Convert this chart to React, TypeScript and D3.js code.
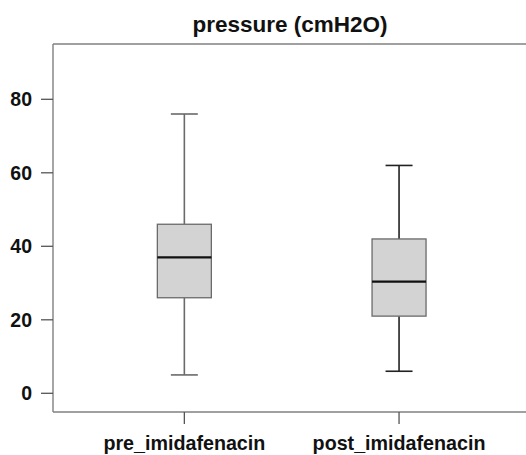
import React from "react";
import * as d3 from "d3";

// group names and the five-number summaries
const groups = ["pre_imidafenacin", "post_imidafenacin"];
const whiskerLow = [5, 6];
const quartile1 = [26, 21];
const medians = [37, 30.4];
const quartile3 = [46, 42];
const whiskerHigh = [76, 62];
const yTicks = [0, 20, 40, 60, 80];
const title = "pressure (cmH2O)";

const W = 526;
const H = 455;
const frame = { left: 53, top: 44, bottom: 412 };

export default function App() {
  const y = d3.scaleLinear().domain([0, 80]).range([393.3, 99.3]);
  const x = d3.scalePoint<string>().domain(groups).range([77, 506.4]).padding(0.5);
  const boxW = 54;
  const capW = 27;
  const whiskerColors = ["#6a6a6a", "#222"];
  const font = "'Liberation Sans', Arial, Helvetica, sans-serif";

  return (
    <svg width={W} height={H} style={{ position: "absolute", left: 0, top: 0, background: "#fff" }}>
      <text x={290} y={32} textAnchor="middle" fontFamily={font} fontWeight="bold" fontSize={22.5} fill="#111">
        {title}
      </text>

      {/* frame: top, left and bottom lines; right side is cut off */}
      <g stroke="#808080" strokeWidth={1.4} fill="none">
        <line x1={frame.left} x2={W} y1={frame.top} y2={frame.top} />
        <line x1={frame.left} x2={frame.left} y1={frame.top} y2={frame.bottom} />
        <line x1={frame.left} x2={W} y1={frame.bottom} y2={frame.bottom} />
      </g>

      {/* y axis */}
      {yTicks.map((t) => (
        <g key={t}>
          <line x1={41} x2={frame.left} y1={y(t)} y2={y(t)} stroke="#555" strokeWidth={1.3} />
          <text x={32} y={y(t)} dy="0.36em" textAnchor="end" fontFamily={font} fontWeight="bold" fontSize={19.5} fill="#111">
            {t}
          </text>
        </g>
      ))}

      {/* x axis */}
      {groups.map((g) => (
        <g key={g}>
          <line x1={x(g)} x2={x(g)} y1={frame.bottom} y2={424} stroke="#555" strokeWidth={1.3} />
          <text x={x(g)} y={450} textAnchor="middle" fontFamily={font} fontWeight="bold" fontSize={19.7} fill="#111">
            {g}
          </text>
        </g>
      ))}

      {/* boxes */}
      {groups.map((g, i) => {
        const cx = x(g) as number;
        const wc = whiskerColors[i];
        return (
          <g key={g}>
            <line x1={cx} x2={cx} y1={y(quartile3[i])} y2={y(whiskerHigh[i])} stroke={wc} strokeWidth={1.6} />
            <line x1={cx} x2={cx} y1={y(quartile1[i])} y2={y(whiskerLow[i])} stroke={wc} strokeWidth={1.6} />
            <line x1={cx - capW / 2} x2={cx + capW / 2} y1={y(whiskerHigh[i])} y2={y(whiskerHigh[i])} stroke={wc} strokeWidth={1.6} />
            <line x1={cx - capW / 2} x2={cx + capW / 2} y1={y(whiskerLow[i])} y2={y(whiskerLow[i])} stroke={wc} strokeWidth={1.6} />
            <rect
              x={cx - boxW / 2}
              y={y(quartile3[i])}
              width={boxW}
              height={y(quartile1[i]) - y(quartile3[i])}
              fill="#d3d3d3"
              stroke="#6a6a6a"
              strokeWidth={1.3}
            />
            <line x1={cx - boxW / 2} x2={cx + boxW / 2} y1={y(medians[i])} y2={y(medians[i])} stroke="#111" strokeWidth={2.2} />
          </g>
        );
      })}
    </svg>
  );
}
